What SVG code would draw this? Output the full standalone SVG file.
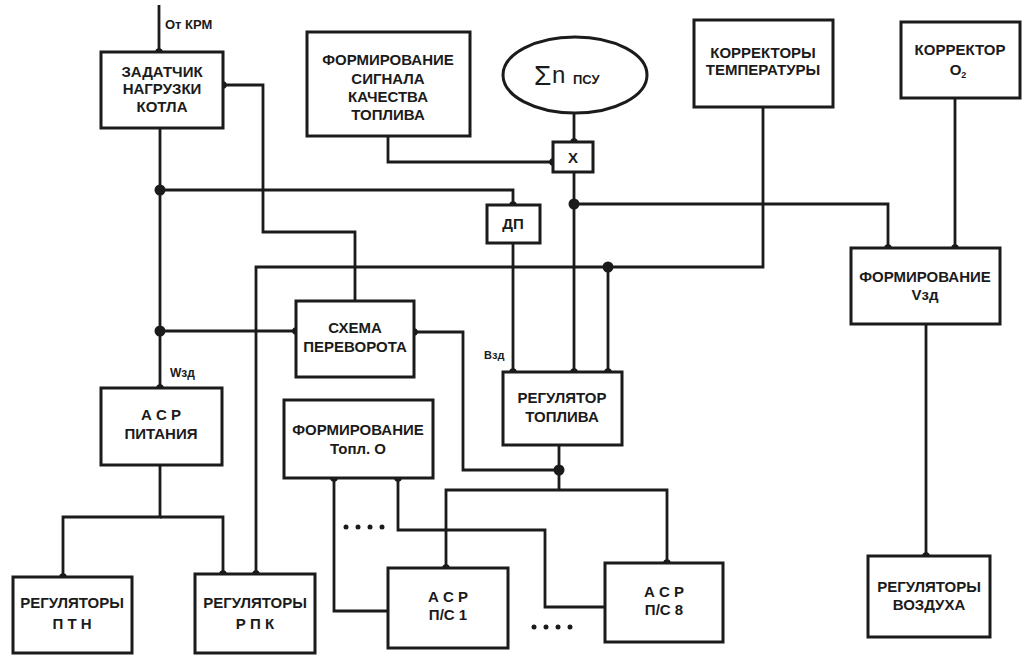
<svg xmlns="http://www.w3.org/2000/svg" width="1028" height="656" viewBox="0 0 1028 656">
<style>
.box{fill:#fff;stroke:#1b1b1b;stroke-width:3}
.ln{fill:none;stroke:#1b1b1b;stroke-width:2.8}
.t{font-family:"Liberation Sans",Arial,sans-serif;font-weight:bold;font-size:15px;fill:#1b1b1b;text-anchor:middle}
.s{font-family:"Liberation Sans",Arial,sans-serif;font-weight:bold;fill:#1b1b1b}
.j{fill:#1b1b1b}
</style>
<defs>
<marker id="dot" markerUnits="userSpaceOnUse" markerWidth="10" markerHeight="10" refX="5" refY="5" orient="auto">
<circle cx="5" cy="5" r="3.8" fill="#1b1b1b"/>
</marker>
</defs>
<rect width="1028" height="656" fill="#fff"/>
<g id="connectors">
<path class="ln" d="M159,5 V52" marker-end="url(#dot)"/>
<path class="ln" d="M160,128 V388" marker-end="url(#dot)"/>
<path class="ln" d="M160,190 H513 V205" marker-end="url(#dot)"/>
<path class="ln" d="M160,331 H296" marker-end="url(#dot)"/>
<path class="ln" d="M355,301 V232 H263 V85 H223" marker-end="url(#dot)"/>
<path class="ln" d="M574,113 V142" marker-end="url(#dot)"/>
<path class="ln" d="M388,136 V162 H553" marker-end="url(#dot)"/>
<path class="ln" d="M574,172 V372" marker-end="url(#dot)"/>
<path class="ln" d="M574,204 H888 V248" marker-end="url(#dot)"/>
<path class="ln" d="M955,98 V248" marker-end="url(#dot)"/>
<path class="ln" d="M763,107 V267 H256 V574" marker-end="url(#dot)"/>
<path class="ln" d="M608,267 V372" marker-end="url(#dot)"/>
<path class="ln" d="M513,243 V372" marker-end="url(#dot)"/>
<path class="ln" d="M559,445 V490"/>
<path class="ln" d="M559,470 H463 V332 H414" marker-end="url(#dot)"/>
<path class="ln" d="M559,490 H446 V568" marker-end="url(#dot)"/>
<path class="ln" d="M559,490 H667 V563" marker-end="url(#dot)"/>
<path class="ln" d="M926,324 V556" marker-end="url(#dot)"/>
<path class="ln" d="M160,465 V517 H63 V577" marker-end="url(#dot)"/>
<path class="ln" d="M160,517 H223 V574" marker-end="url(#dot)"/>
<path class="ln" d="M388,611 H334 V478" marker-end="url(#dot)"/>
<path class="ln" d="M605,607 H545 V530 H398 V478" marker-end="url(#dot)"/>
<circle class="j" cx="160" cy="190" r="5.5"/>
<circle class="j" cx="160" cy="331" r="5.5"/>
<circle class="j" cx="574" cy="204" r="5.5"/>
<circle class="j" cx="608" cy="267" r="5.5"/>
<circle class="j" cx="559" cy="470" r="5.5"/>
<g class="j">
<circle cx="346" cy="527" r="2.5"/><circle cx="358" cy="527" r="2.5"/><circle cx="370" cy="527" r="2.5"/><circle cx="382" cy="527" r="2.5"/>
<circle cx="534" cy="627" r="2.5"/><circle cx="546" cy="627" r="2.5"/><circle cx="558" cy="627" r="2.5"/><circle cx="570" cy="627" r="2.5"/>
</g>
<text class="s" x="165" y="29" font-size="13">От КРМ</text>
<text class="s" x="170" y="377" font-size="12">Wзд</text>
<text class="s" x="484" y="359" font-size="11">Взд</text>
</g>
<g id="zadatchik">
<rect class="box" x="101" y="52" width="122" height="76"/>
<text class="t" x="162" y="77">ЗАДАТЧИК</text>
<text class="t" x="162" y="94">НАГРУЗКИ</text>
<text class="t" x="162" y="112">КОТЛА</text>
</g>
<g id="signal">
<rect class="box" x="307" y="32" width="163" height="104"/>
<text class="t" x="388" y="65">ФОРМИРОВАНИЕ</text>
<text class="t" x="388" y="84">СИГНАЛА</text>
<text class="t" x="388" y="102">КАЧЕСТВА</text>
<text class="t" x="388" y="120">ТОПЛИВА</text>
</g>
<g id="sum">
<ellipse cx="575" cy="75" rx="72" ry="38" fill="#fff" stroke="#1b1b1b" stroke-width="3"/>
<text x="534" y="85" font-family="Liberation Sans,sans-serif" font-size="28" fill="#1b1b1b">Σ</text>
<text x="552" y="83" font-family="Liberation Sans,sans-serif" font-size="24" fill="#1b1b1b">n</text>
<text x="573" y="84" font-family="Liberation Sans,sans-serif" font-weight="bold" font-size="13" fill="#1b1b1b">ПСУ</text>
</g>
<g id="mult">
<rect class="box" x="553" y="142" width="40" height="30"/>
<text class="t" x="573" y="163">X</text>
</g>
<g id="korr-temp">
<rect class="box" x="694" y="20" width="139" height="87"/>
<text class="t" x="763" y="58">КОРРЕКТОРЫ</text>
<text class="t" x="763" y="75">ТЕМПЕРАТУРЫ</text>
</g>
<g id="korr-o2">
<rect class="box" x="901" y="22" width="119" height="76"/>
<text class="t" x="960" y="55">КОРРЕКТОР</text>
<text class="t" x="958" y="75">O<tspan font-size="9" dy="3">2</tspan></text>
</g>
<g id="dp">
<rect class="box" x="487" y="205" width="53" height="38"/>
<text class="t" x="513" y="229">ДП</text>
</g>
<g id="skhema">
<rect class="box" x="296" y="301" width="118" height="76"/>
<text class="t" x="355" y="333">СХЕМА</text>
<text class="t" x="355" y="352">ПЕРЕВОРОТА</text>
</g>
<g id="form-v">
<rect class="box" x="851" y="248" width="149" height="76"/>
<text class="t" x="925" y="282">ФОРМИРОВАНИЕ</text>
<text class="t" x="925" y="300">Vзд</text>
</g>
<g id="asr-pit">
<rect class="box" x="101" y="388" width="121" height="77"/>
<text class="t" x="161" y="420">А С Р</text>
<text class="t" x="161" y="439">ПИТАНИЯ</text>
</g>
<g id="form-o">
<rect class="box" x="284" y="400" width="149" height="78"/>
<text class="t" x="358" y="435">ФОРМИРОВАНИЕ</text>
<text class="t" x="358" y="454">Топл. О</text>
</g>
<g id="reg-topl">
<rect class="box" x="503" y="372" width="119" height="73"/>
<text class="t" x="562" y="403">РЕГУЛЯТОР</text>
<text class="t" x="562" y="422">ТОПЛИВА</text>
</g>
<g id="reg-ptn">
<rect class="box" x="13" y="577" width="119" height="76"/>
<text class="t" x="72" y="608">РЕГУЛЯТОРЫ</text>
<text class="t" x="72" y="629">П Т Н</text>
</g>
<g id="reg-rpk">
<rect class="box" x="195" y="574" width="120" height="79"/>
<text class="t" x="255" y="608">РЕГУЛЯТОРЫ</text>
<text class="t" x="255" y="629">Р П К</text>
</g>
<g id="asr-ps1">
<rect class="box" x="388" y="568" width="120" height="80"/>
<text class="t" x="448" y="602">А С Р</text>
<text class="t" x="448" y="620">П/С 1</text>
</g>
<g id="asr-ps8">
<rect class="box" x="605" y="563" width="118" height="79"/>
<text class="t" x="664" y="597">А С Р</text>
<text class="t" x="664" y="615">П/С 8</text>
</g>
<g id="reg-vozd">
<rect class="box" x="868" y="556" width="122" height="81"/>
<text class="t" x="929" y="592">РЕГУЛЯТОРЫ</text>
<text class="t" x="929" y="610">ВОЗДУХА</text>
</g>
</svg>
